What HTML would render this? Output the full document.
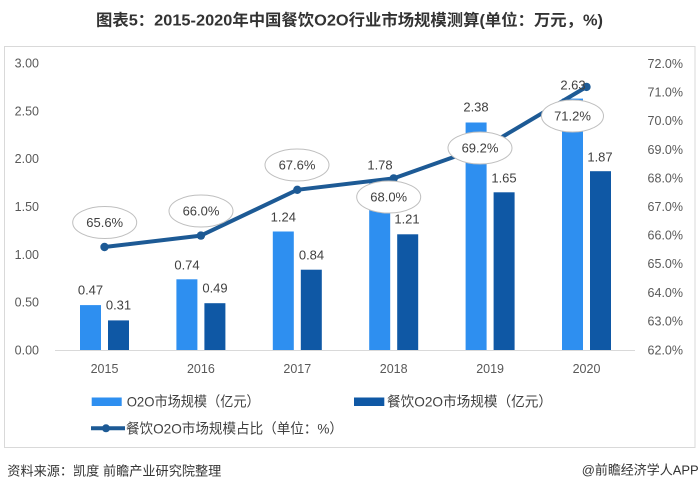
<!DOCTYPE html>
<html>
<head>
<meta charset="utf-8">
<style>
html,body{margin:0;padding:0;background:#fff;}
svg{display:block;}
text{font-family:"Liberation Sans","Noto Sans CJK SC",sans-serif;}
</style>
</head>
<body>
<svg width="700" height="492" viewBox="0 0 700 492" xmlns="http://www.w3.org/2000/svg">
<rect x="0" y="0" width="700" height="492" fill="#fff"/>
<!-- title -->
<text x="96" y="21" dominant-baseline="central" font-size="16" font-weight="bold" fill="#333" textLength="507" lengthAdjust="spacingAndGlyphs">图表5：2015-2020年中国餐饮O2O行业市场规模测算(单位：万元，%)</text>
<!-- frame -->
<rect x="4.5" y="46.5" width="690.5" height="401" fill="none" stroke="#d9d9d9" stroke-width="1"/>
<!-- left axis labels -->
<g font-size="12.5" fill="#595959" text-anchor="end">
<text x="39" y="63.5" dominant-baseline="central">3.00</text>
<text x="39" y="111.5" dominant-baseline="central">2.50</text>
<text x="39" y="159" dominant-baseline="central">2.00</text>
<text x="39" y="207" dominant-baseline="central">1.50</text>
<text x="39" y="255" dominant-baseline="central">1.00</text>
<text x="39" y="302.5" dominant-baseline="central">0.50</text>
<text x="39" y="350.5" dominant-baseline="central">0.00</text>
</g>
<!-- right axis labels -->
<g font-size="12.5" fill="#595959" text-anchor="end">
<text x="683" y="64" dominant-baseline="central">72.0%</text>
<text x="683" y="92.6" dominant-baseline="central">71.0%</text>
<text x="683" y="121.2" dominant-baseline="central">70.0%</text>
<text x="683" y="149.8" dominant-baseline="central">69.0%</text>
<text x="683" y="178.4" dominant-baseline="central">68.0%</text>
<text x="683" y="207" dominant-baseline="central">67.0%</text>
<text x="683" y="235.6" dominant-baseline="central">66.0%</text>
<text x="683" y="264.2" dominant-baseline="central">65.0%</text>
<text x="683" y="292.8" dominant-baseline="central">64.0%</text>
<text x="683" y="321.4" dominant-baseline="central">63.0%</text>
<text x="683" y="350.5" dominant-baseline="central">62.0%</text>
</g>
<!-- baseline -->
<line x1="55" y1="350.5" x2="635" y2="350.5" stroke="#d9d9d9" stroke-width="1"/>
<!-- bars -->
<g fill="#2e8ff0">
<rect x="80" y="305.1" width="21" height="44.9"/>
<rect x="176.4" y="279.3" width="21" height="70.7"/>
<rect x="272.8" y="231.5" width="21" height="118.5"/>
<rect x="369.2" y="179.8" width="21" height="170.2"/>
<rect x="465.6" y="122.5" width="21" height="227.5"/>
<rect x="562" y="98.6" width="21" height="251.4"/>
</g>
<g fill="#0f58a5">
<rect x="108" y="320.4" width="21" height="29.6"/>
<rect x="204.4" y="303.2" width="21" height="46.8"/>
<rect x="300.8" y="269.7" width="21" height="80.3"/>
<rect x="397.2" y="234.3" width="21" height="115.7"/>
<rect x="493.6" y="192.3" width="21" height="157.7"/>
<rect x="590" y="171.2" width="21" height="178.8"/>
</g>
<!-- x labels -->
<g font-size="12.5" fill="#595959" text-anchor="middle">
<text x="104.5" y="369" dominant-baseline="central">2015</text>
<text x="200.9" y="369" dominant-baseline="central">2016</text>
<text x="297.3" y="369" dominant-baseline="central">2017</text>
<text x="393.7" y="369" dominant-baseline="central">2018</text>
<text x="490.1" y="369" dominant-baseline="central">2019</text>
<text x="586.5" y="369" dominant-baseline="central">2020</text>
</g>
<!-- line -->
<polyline points="104.5,247 200.9,235.6 297.3,189.8 393.7,178.4 490.1,144.1 586.5,86.9" fill="none" stroke="#1d5a95" stroke-width="4" stroke-linejoin="round"/>
<g fill="#1d5a95">
<circle cx="104.5" cy="247" r="4.2"/>
<circle cx="200.9" cy="235.6" r="4.2"/>
<circle cx="297.3" cy="189.8" r="4.2"/>
<circle cx="393.7" cy="178.4" r="4.2"/>
<circle cx="490.1" cy="144.1" r="4.2"/>
<circle cx="586.5" cy="86.9" r="4.2"/>
</g>
<!-- ellipses -->
<g fill="#fff" stroke="#bfbfbf" stroke-width="1">
<ellipse cx="104.7" cy="222.5" rx="32" ry="16"/>
<ellipse cx="201" cy="211" rx="32" ry="16"/>
<ellipse cx="297" cy="165" rx="32" ry="16"/>
<ellipse cx="388.7" cy="197" rx="32" ry="16"/>
<ellipse cx="480" cy="148" rx="32" ry="16"/>
<ellipse cx="572.5" cy="116" rx="31" ry="16"/>
</g>
<g font-size="13" fill="#404040" text-anchor="middle">
<text x="104.7" y="222.5" dominant-baseline="central">65.6%</text>
<text x="201" y="211" dominant-baseline="central">66.0%</text>
<text x="297" y="165" dominant-baseline="central">67.6%</text>
<text x="388.7" y="197" dominant-baseline="central">68.0%</text>
<text x="480" y="148" dominant-baseline="central">69.2%</text>
<text x="572.5" y="116" dominant-baseline="central">71.2%</text>
</g>
<!-- bar value labels -->
<g font-size="13" fill="#404040" text-anchor="middle">
<text x="90.5" y="290" dominant-baseline="central">0.47</text>
<text x="118.5" y="305" dominant-baseline="central">0.31</text>
<text x="187" y="265" dominant-baseline="central">0.74</text>
<text x="215" y="288" dominant-baseline="central">0.49</text>
<text x="283.3" y="217" dominant-baseline="central">1.24</text>
<text x="311.5" y="255" dominant-baseline="central">0.84</text>
<text x="380" y="165" dominant-baseline="central">1.78</text>
<text x="407" y="219" dominant-baseline="central">1.21</text>
<text x="476" y="107" dominant-baseline="central">2.38</text>
<text x="504" y="178" dominant-baseline="central">1.65</text>
<text x="573" y="85" dominant-baseline="central">2.63</text>
<text x="600" y="157" dominant-baseline="central">1.87</text>
</g>
<!-- legend -->
<rect x="91.7" y="397.5" width="30" height="8.5" fill="#2e8ff0"/>
<text x="126.7" y="401.7" dominant-baseline="central" font-size="14" fill="#404040" textLength="133" lengthAdjust="spacingAndGlyphs">O2O市场规模（亿元）</text>
<rect x="354" y="397.5" width="30.3" height="8.5" fill="#0f58a5"/>
<text x="387" y="401.7" dominant-baseline="central" font-size="14" fill="#404040" textLength="165" lengthAdjust="spacingAndGlyphs">餐饮O2O市场规模（亿元）</text>
<line x1="91" y1="428.3" x2="125" y2="428.3" stroke="#1d5a95" stroke-width="4"/>
<circle cx="106" cy="428.3" r="4" fill="#1d5a95"/>
<text x="126" y="428.3" dominant-baseline="central" font-size="14" fill="#404040" textLength="217" lengthAdjust="spacingAndGlyphs">餐饮O2O市场规模占比（单位：%）</text>
<!-- footer -->
<text x="7.3" y="471" dominant-baseline="central" font-size="13" fill="#333" textLength="214" lengthAdjust="spacingAndGlyphs">资料来源：凯度 前瞻产业研究院整理</text>
<text x="581.7" y="470" dominant-baseline="central" font-size="13" fill="#333" textLength="117" lengthAdjust="spacingAndGlyphs">@前瞻经济学人APP</text>
</svg>
</body>
</html>
